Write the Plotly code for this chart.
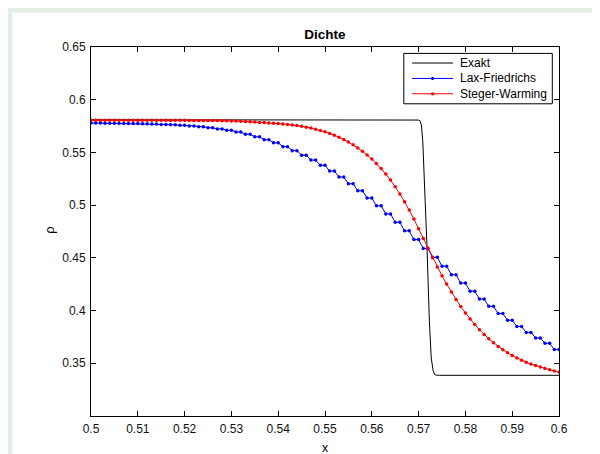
import plotly.graph_objects as go

# ---------------- data ----------------
# Exact solution (fine resolution)
exakt_x = [0.5, 0.5695, 0.5700, 0.5703, 0.5706, 0.5709, 0.5713, 0.5718, 0.5723,
           0.5727, 0.5731, 0.5734, 0.5738, 0.5745, 0.6]
exakt_rho = [0.581, 0.581, 0.5807, 0.5800, 0.5760, 0.5600, 0.5200, 0.4600, 0.3900,
             0.3550, 0.3430, 0.3395, 0.3387, 0.3386, 0.3386]

# numerical grid (dx = 0.001 between 0.5 and 0.6)
x_start, dx, n_pts = 0.5, 0.001, 101
x_grid = [round(x_start + i * dx, 4) for i in range(n_pts)]

# Lax-Friedrichs (staircase: values come in pairs)
lf_rho = [0.5779,
          0.5778, 0.5778, 0.5777, 0.5777, 0.5776, 0.5776, 0.5775, 0.5775, 0.5774, 0.5774,
          0.5772, 0.5772, 0.5769, 0.5769, 0.5766, 0.5766, 0.5762, 0.5762, 0.5757, 0.5757,
          0.5751, 0.5751, 0.5744, 0.5744, 0.5734, 0.5734, 0.5723, 0.5723, 0.5710, 0.5710,
          0.5694, 0.5694, 0.5672, 0.5672, 0.5648, 0.5648, 0.5621, 0.5621, 0.5591, 0.5591,
          0.5555, 0.5555, 0.5517, 0.5517, 0.5474, 0.5474, 0.5427, 0.5427, 0.5378, 0.5378,
          0.5323, 0.5323, 0.5266, 0.5266, 0.5203, 0.5203, 0.5137, 0.5137, 0.5067, 0.5067,
          0.4994, 0.4994, 0.4917, 0.4917, 0.4838, 0.4838, 0.4756, 0.4756, 0.4673, 0.4673,
          0.4589, 0.4589, 0.4505, 0.4505, 0.4421, 0.4421, 0.4340, 0.4340, 0.4261, 0.4261,
          0.4184, 0.4184, 0.4109, 0.4109, 0.4040, 0.4040, 0.3972, 0.3972, 0.3909, 0.3909,
          0.3849, 0.3849, 0.3793, 0.3793, 0.3740, 0.3740, 0.3690, 0.3690, 0.3630, 0.3630]

# Steger-Warming
sw_rho = [0.5805, 0.5805, 0.5805, 0.5805, 0.5805, 0.5805, 0.5805, 0.5805, 0.5805, 0.5805,
          0.5805, 0.5805, 0.5805, 0.5805, 0.5805, 0.5805, 0.5805, 0.5805, 0.5805, 0.5805,
          0.5805, 0.5804, 0.5804, 0.5804, 0.5804, 0.5804, 0.5803, 0.5802, 0.5801, 0.5800,
          0.5799, 0.5797, 0.5795, 0.5793, 0.5791, 0.5788, 0.5785, 0.5783, 0.5780, 0.5777,
          0.5774, 0.5770, 0.5766, 0.5761, 0.5755, 0.5748, 0.5740, 0.5731, 0.5720, 0.5708,
          0.5695, 0.5680, 0.5663, 0.5644, 0.5622, 0.5598, 0.5572, 0.5543, 0.5511, 0.5476,
          0.5437, 0.5394, 0.5347, 0.5295, 0.5238, 0.5175, 0.5106, 0.5032, 0.4953, 0.4868,
          0.4775, 0.4683, 0.4590, 0.4500, 0.4413, 0.4330, 0.4251, 0.4176, 0.4105, 0.4039,
          0.3978, 0.3921, 0.3868, 0.3819, 0.3774, 0.3733, 0.3695, 0.3660, 0.3628, 0.3599,
          0.3573, 0.3550, 0.3529, 0.3510, 0.3493, 0.3478, 0.3464, 0.3451, 0.3439, 0.3428,
          0.3418]

series_names = ["Exakt", "Lax-Friedrichs", "Steger-Warming"]
series_colors = ["black", "#0000ff", "#ff0000"]
series_markers = [False, True, True]

x_ticks = [0.5, 0.51, 0.52, 0.53, 0.54, 0.55, 0.56, 0.57, 0.58, 0.59, 0.6]
x_ticklabels = ["0.5", "0.51", "0.52", "0.53", "0.54", "0.55", "0.56", "0.57", "0.58", "0.59", "0.6"]
y_ticks = [0.35, 0.4, 0.45, 0.5, 0.55, 0.6, 0.65]
y_ticklabels = ["0.35", "0.4", "0.45", "0.5", "0.55", "0.6", "0.65"]

# ---------------- figure ----------------
W, H = 600, 454
L, R, T, B = 82.7, 49, 39.3, 46.3
pw, ph = W - L - R, H - T - B
FONT = "Liberation Sans, Arial, Helvetica, sans-serif"


def px_x(p):
    return (p - L) / pw


def px_y(p):
    return (H - B - p) / ph


fig = go.Figure()
fig.add_trace(go.Scatter(x=exakt_x, y=exakt_rho, mode="lines", name=series_names[0],
                         line=dict(color=series_colors[0], width=1), showlegend=False))
fig.add_trace(go.Scatter(x=x_grid, y=lf_rho, mode="lines+markers", name=series_names[1],
                         line=dict(color=series_colors[1], width=1),
                         marker=dict(color=series_colors[1], size=3.5), showlegend=False))
fig.add_trace(go.Scatter(x=x_grid, y=sw_rho, mode="lines+markers", name=series_names[2],
                         line=dict(color=series_colors[2], width=1),
                         marker=dict(color=series_colors[2], size=3.5), showlegend=False))

axis_common = dict(showgrid=False, zeroline=False, showline=True, linecolor="black",
                   linewidth=1, mirror="ticks", ticks="inside", ticklen=5,
                   tickcolor="black", tickwidth=1,
                   tickfont=dict(family=FONT, size=12, color="#111111"))

fig.update_xaxes(range=[0.5, 0.6], tickmode="array", tickvals=x_ticks,
                 ticktext=x_ticklabels, ticklabelstandoff=2, **axis_common)
fig.update_yaxes(range=[0.3, 0.65], tickmode="array", tickvals=y_ticks,
                 ticktext=y_ticklabels, ticklabelstandoff=2, **axis_common)

# legend box drawn in the MATLAB style (compact rows)
leg_left, leg_right, leg_top, leg_bottom = 395.7, 544.3, 45.7, 96.0
row_y = [55.3, 70.7, 86.0]
sample_x0, sample_x1, text_x = 404, 445, 450

shapes = [dict(type="rect", xref="paper", yref="paper",
               x0=px_x(4), x1=px_x(W + 5), y0=px_y(H + 5), y1=px_y(5),
               fillcolor="white", line=dict(width=0), layer="below"),
          dict(type="rect", xref="paper", yref="paper",
               x0=px_x(leg_left), x1=px_x(leg_right), y0=px_y(leg_bottom), y1=px_y(leg_top),
               fillcolor="white", line=dict(color="black", width=1), layer="above")]
annotations = [
    dict(text="x", xref="paper", yref="paper", x=px_x(317), y=px_y(440),
         xanchor="center", yanchor="middle", showarrow=False,
         font=dict(family=FONT, size=12.5, color="black")),
    dict(text="ρ", xref="paper", yref="paper", x=px_x(41.7), y=px_y(222.7),
         xanchor="center", yanchor="middle", showarrow=False, textangle=-90,
         font=dict(family=FONT, size=13, color="black")),
]
for name, col, has_marker, ry in zip(series_names, series_colors, series_markers, row_y):
    shapes.append(dict(type="line", xref="paper", yref="paper",
                       x0=px_x(sample_x0), x1=px_x(sample_x1), y0=px_y(ry), y1=px_y(ry),
                       line=dict(color=col, width=1), layer="above"))
    if has_marker:
        cx = (sample_x0 + sample_x1) / 2
        shapes.append(dict(type="circle", xref="paper", yref="paper",
                           x0=px_x(cx - 1.6), x1=px_x(cx + 1.6),
                           y0=px_y(ry + 1.6), y1=px_y(ry - 1.6),
                           fillcolor=col, line=dict(color=col, width=0), layer="above"))
    annotations.append(dict(text=name, xref="paper", yref="paper",
                            x=px_x(text_x), y=px_y(ry), xanchor="left", yanchor="middle",
                            showarrow=False,
                            font=dict(family=FONT, size=12, color="black")))

fig.update_layout(
    width=W, height=H,
    margin=dict(l=L, r=R, t=T, b=B, pad=0),
    paper_bgcolor="#e4eee4",
    plot_bgcolor="white",
    font=dict(family=FONT, size=12, color="black"),
    title=dict(text="<b>Dichte</b>", x=(L + pw / 2) / W, xanchor="center",
               yref="container", y=1 - 26 / H, yanchor="middle",
               font=dict(family=FONT, size=13.5, color="black")),
    showlegend=False,
    shapes=shapes,
    annotations=annotations,
)

fig.write_html("out.html")
